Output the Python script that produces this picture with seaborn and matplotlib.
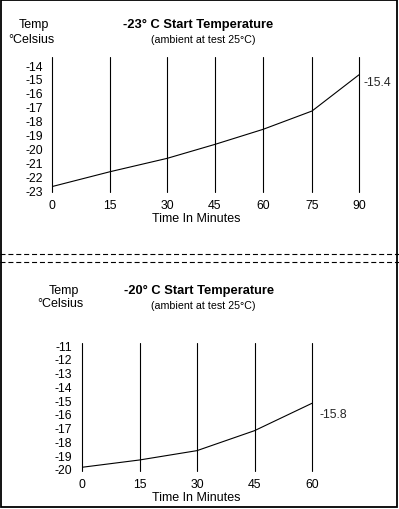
import numpy as np
import matplotlib
matplotlib.use("Agg")
import matplotlib.pyplot as plt
from matplotlib.lines import Line2D
from matplotlib.patches import Rectangle
import seaborn as sns

# ---------------- data ----------------
top_minutes = [0, 15, 30, 45, 60, 75, 90]
top_temps = [-22.75, -21.68, -20.72, -19.71, -18.63, -17.31, -14.7]
top_yticks = [-14, -15, -16, -17, -18, -19, -20, -21, -22, -23]
top_end_label = "-15.4"
top_title = "-23° C Start Temperature"

bot_minutes = [0, 15, 30, 45, 60]
bot_temps = [-19.88, -19.35, -18.67, -17.22, -15.23]
bot_yticks = [-11, -12, -13, -14, -15, -16, -17, -18, -19, -20]
bot_end_label = "-15.8"
bot_title = "-20° C Start Temperature"

subtitle = "(ambient at test 25°C)"
ylab1, ylab2 = "Temp", "°Celsius"
xlabel = "Time In Minutes"

# ---------------- style ----------------
sns.set_theme(style="white")
plt.rcParams["font.family"] = ["Liberation Sans", "DejaVu Sans"]

W, H = 399, 510
fig = plt.figure(figsize=(W / 100, H / 100), dpi=100)
fig.patch.set_facecolor("white")


def rect(l, t, r, b):
    return [l / W, 1 - b / H, (r - l) / W, (b - t) / H]


def fx(x):
    return x / W


def fy(y):
    return 1 - y / H


TICK_FS = 8.8
TEXT_FS = 9.0
LW = 0.8

# top panel uses the uneven column spacing of the original graphic
top_col_px = np.array([0, 58, 115, 163, 211, 260, 307], dtype=float)
tm = np.array(top_minutes, dtype=float)
xs_ext = np.concatenate([[-1000.0], tm, [1000.0]])
s0 = (top_col_px[1] - top_col_px[0]) / (tm[1] - tm[0])
s1 = (top_col_px[-1] - top_col_px[-2]) / (tm[-1] - tm[-2])
ps_ext = np.concatenate([[top_col_px[0] - s0 * 1000], top_col_px,
                         [top_col_px[-1] + s1 * (1000 - tm[-1])]])


def fwd(x):
    return np.interp(x, xs_ext, ps_ext)


def inv(p):
    return np.interp(p, ps_ext, xs_ext)


def panel(ax, minutes, temps, yticks, ylim, ypad, end_label, label_off):
    sns.lineplot(x=minutes, y=temps, ax=ax, color="black", lw=LW,
                 estimator=None, legend=False)
    ax.set_xlim(minutes[0], minutes[-1])
    ax.set_ylim(*ylim)
    for t in minutes:
        ax.axvline(t, color="black", lw=LW, clip_on=False)
    ax.set_xticks(minutes)
    ax.set_xticklabels([str(m) for m in minutes])
    ax.set_yticks(yticks)
    ax.set_yticklabels([str(v) for v in yticks])
    ax.tick_params(axis="both", length=0, labelsize=TICK_FS, colors="black")
    ax.tick_params(axis="x", pad=5)
    ax.tick_params(axis="y", pad=ypad)
    for s in ax.spines.values():
        s.set_visible(False)
    ax.set_facecolor("none")
    ax.set_xlabel("")
    ax.set_ylabel("")
    ax.annotate(end_label, xy=(minutes[-1], temps[-1]), xycoords="data",
                xytext=label_off, textcoords="offset pixels",
                ha="left", va="baseline", fontsize=TICK_FS)


# ---- top panel ----
ax1 = fig.add_axes(rect(52, 58, 359, 193))
ax1.set_xscale("function", functions=(fwd, inv))
panel(ax1, top_minutes, top_temps, top_yticks, (-23.14, -13.42), 6.5,
      top_end_label, (4, -10))

# ---- bottom panel ----
ax2 = fig.add_axes(rect(82, 344, 312, 472))
panel(ax2, bot_minutes, bot_temps, bot_yticks, (-20.15, -10.85), 7,
      bot_end_label, (7, -14))

# ---- texts ----
def ftext(x, y, s, **kw):
    kw.setdefault("fontsize", TEXT_FS)
    kw.setdefault("ha", "center")
    kw.setdefault("va", "baseline")
    fig.text(fx(x), fy(y), s, color="black", **kw)


# top
ftext(34, 28, ylab1)
ftext(31, 43, ylab2)
ftext(198, 28, top_title, fontsize=9.3, fontweight="bold")
ftext(203.5, 43, subtitle, fontsize=7.7)
ftext(196, 221.5, xlabel)
# bottom
ftext(64, 294, ylab1)
ftext(60, 307.5, ylab2)
ftext(199.5, 294, bot_title, fontsize=9.3, fontweight="bold")
ftext(203.5, 309, subtitle, fontsize=7.7)
ftext(196, 501.5, xlabel)

# separator dashed lines
for yy in (255, 263):
    fig.add_artist(Line2D([0, 1], [fy(yy), fy(yy)], transform=fig.transFigure,
                          color="black", lw=LW, linestyle=(0, (4.5, 2.6))))

# outer border
fig.add_artist(Rectangle((fx(1), fy(508)), fx(396), (507) / H,
                         transform=fig.transFigure, fill=False,
                         edgecolor="black", lw=1.3))

fig.savefig("out.png", dpi=100, facecolor="white")
